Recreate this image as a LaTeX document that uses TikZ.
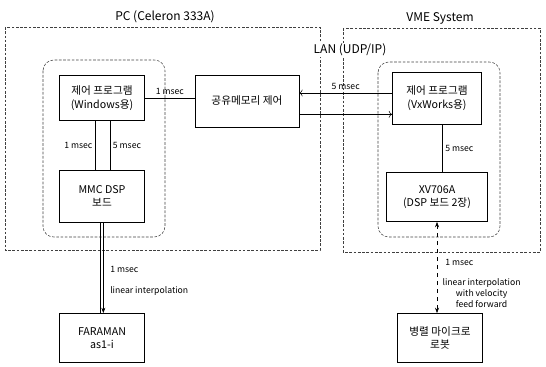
\documentclass[tikz,border=0pt]{standalone}
\usepackage{fontspec}
\setmainfont{Noto Sans CJK KR}
\usetikzlibrary{arrows.meta}

\tikzset{
  unitbox/.style={draw, thin, align=center, inner sep=1pt, font=\fontsize{8}{10}\selectfont},
  groupbox/.style={draw=black!75, thin, dash pattern=on 2pt off 1.2pt},
  linkline/.style={draw, thin},
  ratelabel/.style={font=\fontsize{6.5}{8}\selectfont, inner sep=2pt},
  grouptitle/.style={font=\fontsize{9}{11}\selectfont, inner sep=1pt},
}

\begin{document}
\begin{tikzpicture}[x=0.75pt, y=-0.75pt]
\useasboundingbox (0,0) rectangle (546,367);

% ── Groups ──
\draw[groupbox] (5,27) rectangle (320,250);
\draw[groupbox] (343,28) rectangle (540,252);
\draw[groupbox, rounded corners=8pt] (43,60) rectangle (165,237);
\draw[groupbox, rounded corners=8pt] (378,62) rectangle (500,237);
\node[grouptitle] (pctitle) at (165,17) {PC (Celeron 333A)};
\node[grouptitle] (vmetitle) at (440,18) {VME System};
\node[grouptitle, fill=white] (lantitle) at (350,50) {LAN (UDP/IP)};

% ── Units ──
\node[unitbox, minimum width=64pt, minimum height=34pt] (win) at (102,98) {제어 프로그램\\(Windows용)};
\node[unitbox, minimum width=78pt, minimum height=39pt] (shm) at (247,101) {공유메모리 제어};
\node[unitbox, minimum width=67pt, minimum height=39pt] (vx) at (437,98) {제어 프로그램\\(VxWorks용)};
\node[unitbox, minimum width=64pt, minimum height=39pt] (mmc) at (102,196) {MMC DSP\\보드};
\node[unitbox, minimum width=76pt, minimum height=37pt] (xv) at (437,197) {XV706A\\(DSP 보드 2장)};
\node[unitbox, minimum width=64pt, minimum height=37pt] (faraman) at (102,338) {FARAMAN\\as1-i};
\node[unitbox, minimum width=64pt, minimum height=37pt] (robot) at (440,338) {병렬 마이크로\\로봇};

% ── PC side links ──
\draw[linkline] (win.east) -- (win.east -| shm.west)
  node[ratelabel, midway, above] {1 msec};
\draw[linkline] ([xshift=-5pt]win.south) -- ([xshift=-5pt]win.south |- mmc.north)
  node[ratelabel, midway, left] {1 msec};
\draw[linkline] ([xshift=6pt]win.south) -- ([xshift=6pt]win.south |- mmc.north)
  node[ratelabel, midway, right] {5 msec};
\draw[linkline] ([xshift=-1pt]mmc.south) -- ([xshift=-1pt]mmc.south |- faraman.north);
\draw[linkline, -{Stealth[length=4pt]}] ([xshift=1pt]mmc.south) -- ([xshift=1pt]mmc.south |- faraman.north)
  node[ratelabel, pos=0.52, anchor=west, xshift=3pt] {1 msec}
  node[ratelabel, pos=0.76, anchor=west, xshift=3pt] {linear interpolation};

% ── LAN links ──
\draw[linkline, <-] ([yshift=6pt]shm.east) -- ([yshift=6pt]shm.east -| vx.west)
  node[ratelabel, midway, above] {5 msec};
\draw[linkline, ->] ([yshift=-10pt]shm.east) -- ([yshift=-10pt]shm.east -| vx.west);

% ── VME side links ──
\draw[linkline] ([xshift=4pt]vx.south) -- ([xshift=4pt]vx.south |- xv.north)
  node[ratelabel, midway, right] {5 msec};
\draw[linkline, dashed, {Stealth[length=4pt]}-{Stealth[length=4pt]}] (xv.south) -- (xv.south |- robot.north)
  node[ratelabel, pos=0.45, anchor=west, xshift=4pt] {1 msec}
  node[ratelabel, pos=0.78, anchor=west, xshift=2pt, align=center] {linear interpolation\\with velocity\\feed forward};

\end{tikzpicture}
\end{document}
